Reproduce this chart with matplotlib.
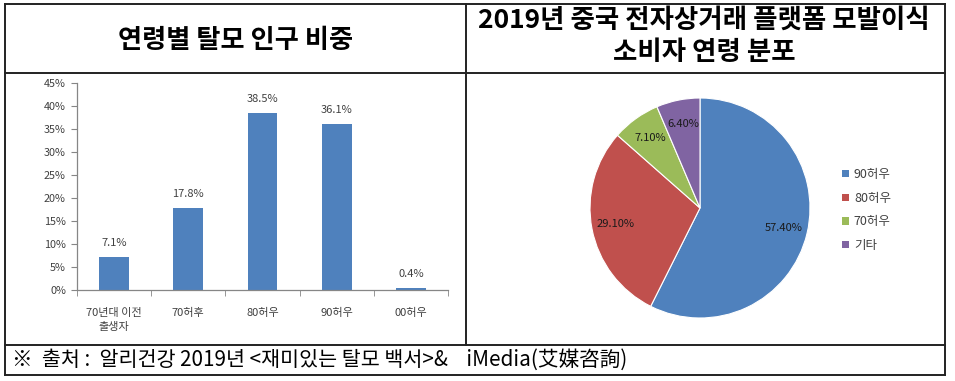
import matplotlib
matplotlib.use("Agg")
import matplotlib.pyplot as plt
from matplotlib.lines import Line2D
from matplotlib.patches import Patch

# ---------------- data ----------------
bar_categories = ["70년대 이전\n출생자", "70허후", "80허우", "90허우", "00허우"]
bar_values = [7.1, 17.8, 38.5, 36.1, 0.4]
bar_labels = ["7.1%", "17.8%", "38.5%", "36.1%", "0.4%"]
y_ticks = [0, 5, 10, 15, 20, 25, 30, 35, 40, 45]
y_ticklabels = ["0%", "5%", "10%", "15%", "20%", "25%", "30%", "35%", "40%", "45%"]

pie_labels = ["90허우", "80허우", "70허우", "기타"]
pie_values = [57.4, 29.1, 7.1, 6.4]

title_left = "연령별 탈모 인구 비중"
title_right_1 = "2019년 중국 전자상거래 플랫폼 모발이식"
title_right_2 = "소비자 연령 분포"
footer = "※  출처 :  알리건강 2019년 <재미있는 탈모 백서>&    iMedia(艾媒咨詢)"

# ---------------- style ----------------
FAM = ["Noto Sans CJK KR", "DejaVu Sans"]
plt.rcParams["font.family"] = FAM
BLUE = "#4F81BD"
pie_colors = ["#4F81BD", "#C0504D", "#9BBB59", "#8064A2"]
TXT = "#404040"
AXC = "#868686"

W, H = 955, 381
fig = plt.figure(figsize=(W / 100, H / 100), dpi=100)
fig.patch.set_facecolor("white")


def fx(x):
    return x / W


def fy(y):
    return 1 - y / H


def rect(l, t, r, b):
    return [fx(l), fy(b), (r - l) / W, (b - t) / H]


def hline(y, x0, x1, lw=1.4, c="#222222"):
    fig.add_artist(Line2D([fx(x0), fx(x1)], [fy(y), fy(y)], transform=fig.transFigure,
                          color=c, lw=lw, solid_capstyle="projecting"))


def vline(x, y0, y1, lw=1.4, c="#222222"):
    fig.add_artist(Line2D([fx(x), fx(x)], [fy(y0), fy(y1)], transform=fig.transFigure,
                          color=c, lw=lw, solid_capstyle="projecting"))


# table frame
hline(4, 5, 945)
hline(73, 5, 945)
hline(345, 5, 945)
hline(375, 5, 945)
vline(5, 4, 375)
vline(945, 4, 375)
vline(466, 4, 345)

renderer = fig.canvas.get_renderer()


def fit(t, target_w):
    bb = t.get_window_extent(renderer)
    t.set_fontsize(t.get_fontsize() * target_w / bb.width)


# titles
tl = fig.text(fx(235.5), fy(40), title_left, ha="center", va="center",
              fontsize=17, fontweight="bold", color="black")
fit(tl, 235)
tr1 = fig.text(fx(704), fy(20), title_right_1, ha="center", va="center",
               fontsize=17, fontweight="bold", color="black")
fit(tr1, 452)
tr2 = fig.text(fx(704), fy(52), title_right_2, ha="center", va="center",
               fontsize=tr1.get_fontsize(), fontweight="bold", color="black")

# footer
ft = fig.text(fx(12), fy(360), footer, ha="left", va="center", fontsize=14, color="black")
fit(ft, 616)

# ---------------- bar chart ----------------
ax = fig.add_axes(rect(77, 83, 448, 290))
x = list(range(len(bar_values)))
ax.bar(x, bar_values, width=0.4, color=BLUE, zorder=2)
ax.set_xlim(-0.5, len(bar_values) - 0.5)
ax.set_ylim(0, 45)
ax.set_yticks(y_ticks)
ax.set_yticklabels(y_ticklabels)
ax.set_xticks(x)
ax.set_xticklabels(bar_categories, linespacing=1.45)
ax.set_xticks([i - 0.5 for i in range(len(bar_values) + 1)], minor=True)
ax.tick_params(axis="x", which="major", length=0, pad=13, labelsize=8, labelcolor=TXT)
ax.tick_params(axis="x", which="minor", length=4, color=AXC, direction="out")
ax.tick_params(axis="y", length=4, color=AXC, direction="out", pad=4, labelsize=7.8, labelcolor=TXT)
for s in ["top", "right"]:
    ax.spines[s].set_visible(False)
for s in ["left", "bottom"]:
    ax.spines[s].set_color(AXC)
    ax.spines[s].set_linewidth(0.9)
for xi, v, lab in zip(x, bar_values, bar_labels):
    ax.annotate(lab, (xi, v), xytext=(0, 10), textcoords="offset points",
                ha="center", va="center", fontsize=8, color=TXT)

# ---------------- pie chart ----------------
pax = fig.add_axes(rect(590, 98, 810, 318))
wedges, texts, autotexts = pax.pie(
    pie_values, colors=pie_colors, startangle=90, counterclock=False,
    autopct="%.2f%%", pctdistance=0.78,
    wedgeprops=dict(edgecolor="white", linewidth=0.8))
for t in autotexts:
    t.set_fontsize(8)
    t.set_color("#1a1a1a")
pax.set_xlim(-1, 1)
pax.set_ylim(-1, 1)
pax.set_aspect("equal")

handles = [Patch(facecolor=c, edgecolor="none") for c in pie_colors]
fig.legend(handles, pie_labels, loc="center left", bbox_to_anchor=(fx(842), fy(210)),
           frameon=False, fontsize=9, handlelength=0.55, handleheight=0.55,
           handletextpad=0.4, labelspacing=0.85, borderpad=0, borderaxespad=0,
           labelcolor=TXT)

fig.savefig("out.png", dpi=100, facecolor="white")
